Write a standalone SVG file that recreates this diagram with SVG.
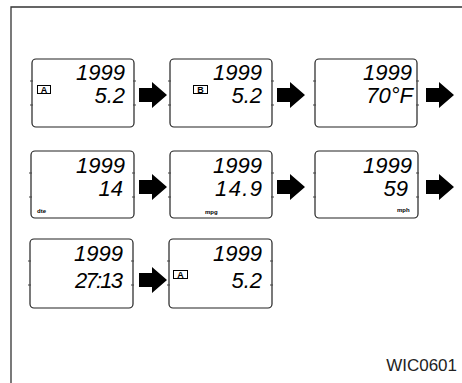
<svg xmlns="http://www.w3.org/2000/svg" width="462" height="383" viewBox="0 0 462 383">
<style>
.frame{fill:none;stroke:#333;stroke-width:1.3}
.lcd{fill:#fff;stroke:#222;stroke-width:1.2}
.tick{stroke:#444;stroke-width:1}
.dig{font-family:"Liberation Sans",Arial,sans-serif;font-style:italic;font-size:22px;fill:#000;text-anchor:end}
.tag{fill:none;stroke:#000;stroke-width:1}
.tagt{font-family:"Liberation Sans",Arial,sans-serif;font-weight:bold;font-size:9px;fill:#000;text-anchor:middle}
.unit{font-family:"Liberation Sans",Arial,sans-serif;font-weight:bold;font-size:6px;fill:#000}
.code{font-family:"Liberation Sans",Arial,sans-serif;font-size:17px;fill:#222;text-anchor:end}
.arr{fill:#000}
</style>
<defs>
<path id="arrow" d="M0,-7 H13 V-13 L28,0 L13,13 V7 H0 Z"/>
<g id="ticks">
<line class="tick" x1="-2" y1="22" x2="1" y2="22"/>
<line class="tick" x1="-2" y1="46" x2="1" y2="46"/>
<line class="tick" x1="101" y1="22" x2="104" y2="22"/>
<line class="tick" x1="101" y1="46" x2="104" y2="46"/>
</g>
</defs>
<path class="frame" d="M11,383 V7 H462"/>

<g id="n1">
<rect class="lcd" x="32" y="59" width="102" height="68" rx="4"/>
<use href="#ticks" x="32" y="59"/>
<rect class="tag" x="37.5" y="85.5" width="13" height="8"/>
<text class="tagt" x="44" y="92.7">A</text>
<text class="dig" x="125" y="80">1999</text>
<text class="dig" x="125" y="103">5.2</text>
</g>
<g id="n2">
<rect class="lcd" x="170" y="59" width="102" height="68" rx="4"/>
<use href="#ticks" x="170" y="59"/>
<rect class="tag" x="193.5" y="85.5" width="14" height="8"/>
<text class="tagt" x="200.5" y="92.7">B</text>
<text class="dig" x="262" y="80">1999</text>
<text class="dig" x="262" y="103">5.2</text>
</g>
<g id="n3">
<rect class="lcd" x="315" y="59" width="102" height="68" rx="4"/>
<use href="#ticks" x="315" y="59"/>
<text class="dig" x="412" y="80">1999</text>
<text class="dig" x="413" y="103">70°F</text>
</g>

<g id="n4">
<rect class="lcd" x="31" y="151" width="103" height="67" rx="4"/>
<use href="#ticks" x="31" y="151"/>
<text class="dig" x="125" y="173">1999</text>
<text class="dig" x="123" y="196">14</text>
<text class="unit" x="37" y="213">dte</text>
</g>
<g id="n5">
<rect class="lcd" x="170" y="151" width="102" height="67" rx="4"/>
<use href="#ticks" x="170" y="151"/>
<text class="dig" x="262" y="173">1999</text>
<text class="dig" x="262" y="196" textLength="47">14.9</text>
<text class="unit" x="205" y="214">mpg</text>
</g>
<g id="n6">
<rect class="lcd" x="315" y="151" width="103" height="67" rx="4"/>
<use href="#ticks" x="315" y="151"/>
<text class="dig" x="412" y="173">1999</text>
<text class="dig" x="408" y="196">59</text>
<text class="unit" x="397" y="212">mph</text>
</g>

<g id="n7">
<rect class="lcd" x="30" y="239" width="103" height="69" rx="4"/>
<use href="#ticks" x="30" y="239"/>
<text class="dig" x="123" y="261">1999</text>
<text class="dig" x="123" y="288" textLength="48">27:13</text>
</g>
<g id="n8">
<rect class="lcd" x="169" y="239" width="103" height="69" rx="4"/>
<use href="#ticks" x="169" y="239"/>
<rect class="tag" x="173.5" y="270.5" width="14" height="8"/>
<text class="tagt" x="180.5" y="277.7">A</text>
<text class="dig" x="262" y="261">1999</text>
<text class="dig" x="262" y="288">5.2</text>
</g>

<g id="connectors">
<use href="#arrow" class="arr" x="139" y="95"/>
<use href="#arrow" class="arr" x="277" y="95"/>
<use href="#arrow" class="arr" x="426" y="95"/>
<use href="#arrow" class="arr" x="139" y="187"/>
<use href="#arrow" class="arr" x="277" y="187"/>
<use href="#arrow" class="arr" x="426" y="187"/>
<use href="#arrow" class="arr" x="139" y="280"/>
</g>

<text class="code" x="457" y="371">WIC0601</text>
</svg>
